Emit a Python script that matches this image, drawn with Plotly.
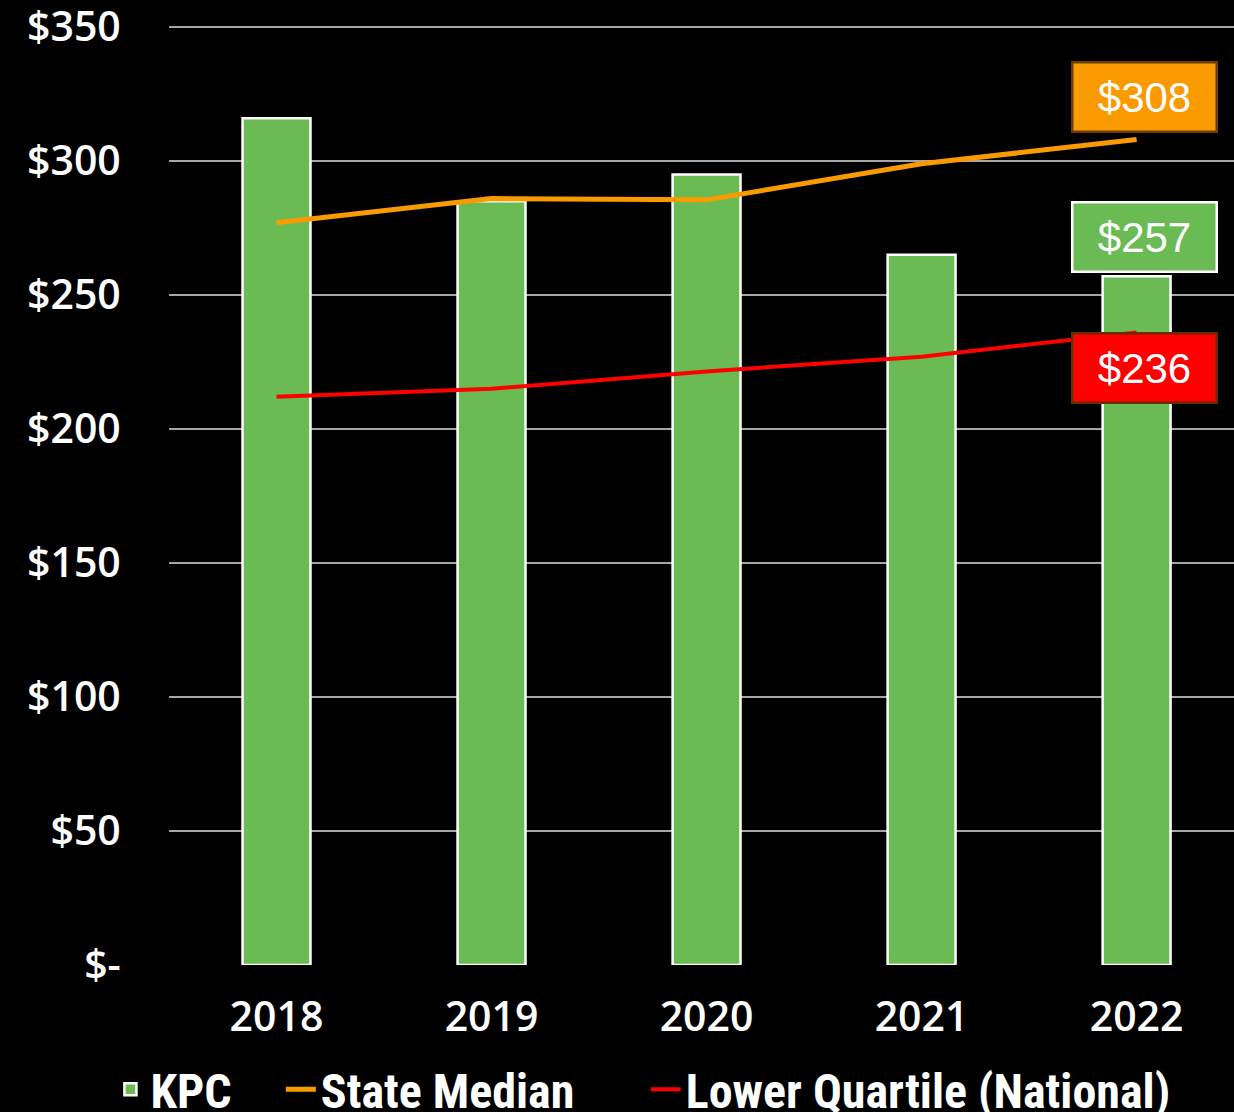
import plotly.graph_objects as go

years = ["2018", "2019", "2020", "2021", "2022"]
kpc = [316, 285, 295, 265, 257]
state_median = [277, 286, 285.5, 299, 308]
lower_quartile = [212, 215, 221.5, 227, 236]

y_ticks = [0, 50, 100, 150, 200, 250, 300, 350]
y_ticktext = ["$-", "$50", "$100", "$150", "$200", "$250", "$300", "$350"]

GREEN = "#6ABB54"
ORANGE = "#F99B00"
RED = "#FF0000"
tick_font = dict(family="Open Sans, Liberation Sans, sans-serif", size=41, color="white", weight=600)
NB = "\u00a0"

fig = go.Figure()
fig.add_trace(go.Bar(
    x=years, y=kpc, name="KPC" + NB * 4, width=0.316,
    marker=dict(color=GREEN, line=dict(color="white", width=2.5)),
))
fig.add_trace(go.Scatter(
    x=years, y=state_median, name="State Median" + NB * 6, mode="lines",
    line=dict(color=ORANGE, width=5),
))
fig.add_trace(go.Scatter(
    x=years, y=lower_quartile, name="Lower Quartile (National)", mode="lines",
    line=dict(color=RED, width=4),
))

label_font = dict(family="Liberation Sans, Arial, sans-serif", size=42, color="white")
last = len(years) - 1
common = dict(showarrow=False, xshift=8, font=label_font, width=130, height=55, borderpad=6,
              borderwidth=2.5, xref="x", yref="y")
fig.add_annotation(x=last, y=state_median[-1], text="$" + str(state_median[-1]), yshift=43,
                   bgcolor=ORANGE, bordercolor="#6B3D00", **common)
fig.add_annotation(x=last, y=kpc[-1], text="$" + str(kpc[-1]), yshift=39,
                   bgcolor=GREEN, bordercolor="white", **common)
fig.add_annotation(x=last, y=lower_quartile[-1], text="$" + str(lower_quartile[-1]), yshift=-35,
                   bgcolor=RED, bordercolor="#6B2A00", **common)

fig.update_layout(
    width=1234, height=1112,
    paper_bgcolor="black", plot_bgcolor="black",
    margin=dict(l=169, r=0, t=25, b=147, autoexpand=False),
    showlegend=True,
    legend=dict(orientation="h", x=-0.055, xanchor="left", y=-0.092, yanchor="top",
                font=dict(family="Liberation Sans Narrow, Roboto Condensed, Liberation Sans, sans-serif",
                          size=48, color="white", weight="bold"),
                bgcolor="rgba(0,0,0,0)", itemwidth=30, tracegroupgap=0),
)
fig.update_xaxes(type="category", range=[-0.5, 4.453], showgrid=False, zeroline=False, showline=False,
                 tickfont=tick_font, ticks="outside", ticklen=16, tickcolor="rgba(0,0,0,0)")
fig.update_yaxes(range=[0, 350.75], tickvals=y_ticks, ticktext=y_ticktext,
                 showgrid=True, gridcolor="#A6A6A6", gridwidth=1.5, zeroline=False,
                 showline=False, tickfont=tick_font, ticks="outside", ticklen=39,
                 tickcolor="rgba(0,0,0,0)", ticklabeloverflow="allow")

fig.write_html("out.html", config={"displayModeBar": False},
               post_script="document.body.style.margin='0';document.body.style.background='black';")
